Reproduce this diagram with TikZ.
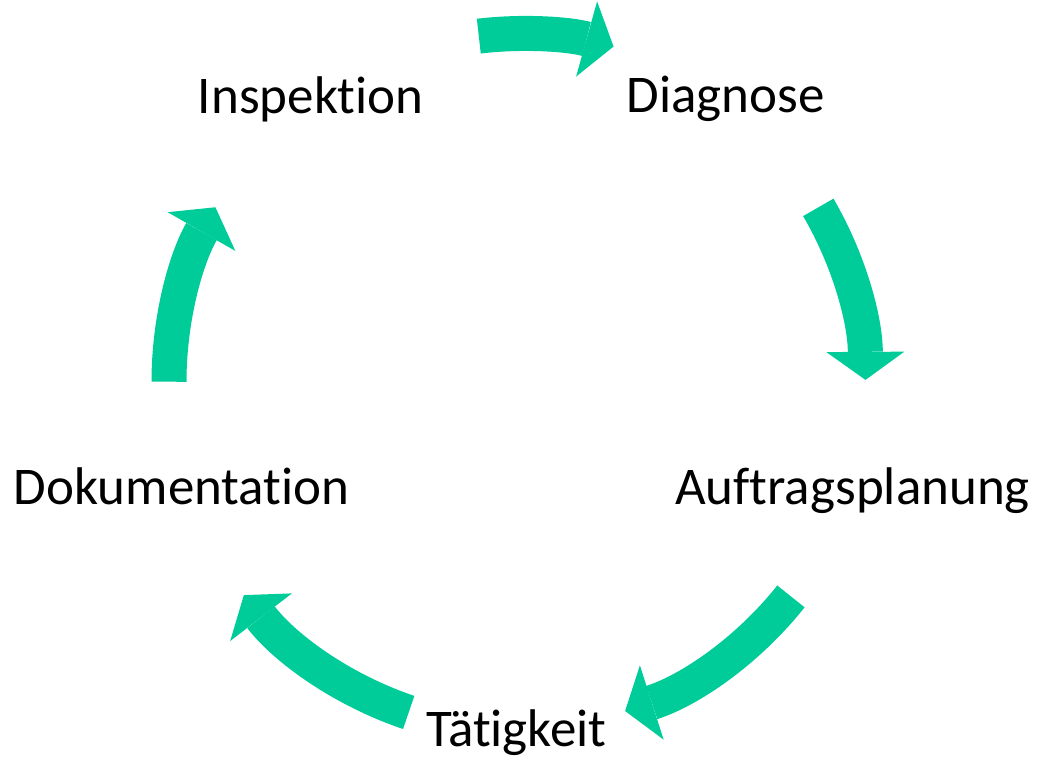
\documentclass[tikz,border=0pt]{standalone}
\usepackage{fontspec}
\setmainfont{Carlito}[Ligatures={NoCommon}]
\usetikzlibrary{arrows.meta}

\definecolor{cyclegreen}{RGB}{0,204,153}
\newcommand{\nolig}{\kern0pt}

\tikzset{
	steplabel/.style={anchor=base, inner sep=0pt, font=\fontsize{53}{58}\selectfont},
	cyclearrow/.style={cyclegreen, line width=35pt,
		-{Triangle[width=78pt, length=28pt, line width=0pt]}}
}

\begin{document}
\begin{tikzpicture}[x=1pt, y=1pt]
		\useasboundingbox (0,0) rectangle (1037,759);
		\coordinate (Middle) at (520,377.3);
		
		% Define steps
		\node[steplabel] (Inspektion) at (310.8,645.7) {Inspekt\nolig ion};
		\node[steplabel] (Diagnose) at (725.8,646) {Diagnose};
		\node[steplabel] (Auftrag) at (852.5,254) {Auf\nolig tragsplanung};
		\node[steplabel] (Taetigkeit) at (516.5,12.3) {Tät\nolig igkeit};
		\node[steplabel] (Doku) at (181.7,254) {Dokumentat\nolig ion};
		
		% Define arrows between the steps
		\draw[cyclearrow] ([shift={(96.8:348pt)}]Middle) arc[start angle=96.8, end angle=74.4, radius=348pt];
		\draw[cyclearrow] ([shift={(30.3:345.5pt)}]Middle) arc[start angle=30.3, end angle=0.3, radius=345.5pt];
		\draw[cyclearrow] ([shift={(-38.4:345.7pt)}]Middle) arc[start angle=-38.4, end angle=-72.3, radius=345.7pt];
		\draw[cyclearrow] ([shift={(-108.6:349pt)}]Middle) arc[start angle=-108.6, end angle=-142.3, radius=349pt];
		\draw[cyclearrow] ([shift={(180:351pt)}]Middle) arc[start angle=180, end angle=150.2, radius=351pt];
	\end{tikzpicture}
\end{document}
